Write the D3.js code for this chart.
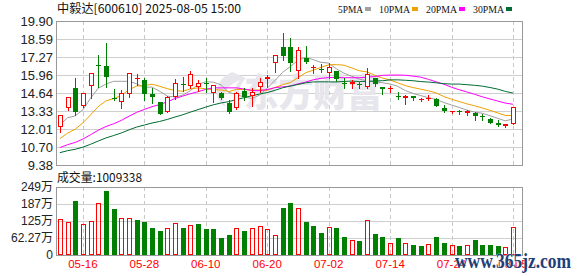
<!DOCTYPE html>
<html>
<head>
<meta charset="utf-8">
<script src="https://cdn.jsdelivr.net/npm/d3@7/dist/d3.min.js"></script>
<style>
  body { margin: 0; background: #fff; }
  svg { display: block; }
</style>
</head>
<body>
<svg id="chart" width="578" height="276"></svg>
<script>
// trading days shown on the chart
const dates = ['05-13','05-14','05-15','05-16','05-19','05-20','05-21','05-22','05-23','05-26',
  '05-27','05-28','05-29','05-30','06-03','06-04','06-05','06-06','06-09','06-10',
  '06-11','06-12','06-13','06-16','06-17','06-18','06-19','06-20','06-23','06-24',
  '06-25','06-26','06-27','06-30','07-01','07-02','07-03','07-04','07-07','07-08',
  '07-09','07-10','07-11','07-14','07-15','07-16','07-17','07-18','07-21','07-22',
  '07-23','07-24','07-25','07-28','07-29','07-30','07-31','08-01','08-04','08-05'];

const opens = [12.18,13.57,15.03,13.67,15.15,16.72,16.61,14.28,14.01,14.54,
  15.70,15.59,14.57,13.96,13.23,14.37,15.28,15.15,15.08,15.34,
  14.62,14.66,13.93,13.52,14.79,14.42,15.05,15.64,16.86,17.98,
  17.98,16.25,17.22,16.49,16.39,16.08,16.25,15.40,15.27,15.30,
  15.10,15.76,15.08,14.94,14.40,14.25,14.42,14.15,14.18,14.18,
  13.57,13.33,13.30,13.15,13.15,12.93,12.72,12.47,12.25,12.35];
const highs = [13.03,14.33,15.76,14.64,16.12,17.42,18.30,14.93,14.86,16.08,
  16.03,15.71,15.03,13.98,14.40,15.64,15.78,16.25,15.59,15.76,
  15.25,14.74,14.13,14.69,14.98,15.03,15.71,15.96,17.39,19.02,
  18.66,17.98,18.07,16.69,16.74,16.86,16.25,15.71,15.59,15.47,
  16.44,15.76,15.10,15.18,14.69,14.49,14.42,14.30,14.49,14.25,
  13.76,13.35,13.40,13.42,13.23,13.13,12.84,12.67,12.37,13.61];
const lows = [11.77,13.40,13.03,13.65,14.30,15.10,15.10,14.13,13.57,14.37,
  15.22,14.13,13.89,13.08,13.23,14.18,14.79,14.98,14.79,14.69,
  13.96,14.20,13.15,13.47,14.13,13.71,14.69,15.05,16.15,17.02,
  16.26,15.71,16.86,16.08,16.15,15.71,15.54,15.03,15.03,15.03,
  15.03,15.18,14.57,14.69,14.18,13.81,14.13,14.08,14.13,13.71,
  13.23,13.15,13.13,13.03,12.67,12.67,12.47,12.23,12.18,12.35];
const closes = [13.03,14.33,13.23,14.62,16.08,16.69,15.83,14.25,14.62,16.08,
  15.76,14.54,14.37,13.08,14.32,15.40,15.26,16.00,15.36,15.30,
  15.23,14.25,13.28,14.62,14.32,14.74,15.47,15.81,17.39,17.34,
  16.81,17.78,16.93,16.52,16.35,16.56,15.66,15.35,15.42,15.25,
  16.00,15.30,14.96,15.00,14.37,14.45,14.25,14.18,14.25,13.71,
  13.33,13.35,13.28,13.30,12.96,12.91,12.47,12.33,12.37,13.61];
// volume in 万
const volumes = [132,121,199,113.5,124.5,190,235.6,170,135.5,135.5,
  128,121,100,88,99,117,99,108.6,113.5,95,
  95,62,73,97.6,88,97.6,106,94,72,172,
  190,172,121,106,80.6,102.5,99,66,54,51,
  128,77,66,43,62,45.5,37,33,39,66,
  44,35,33,35,55,37,37,33,28,100.9338];

// closes before the visible window (oldest first), estimated from where the MA lines start
const priorCloses = [10.0,10.1,10.0,9.8,9.5,9.2,8.9,9.0,9.3,9.6,
  10.1,9.9,9.7,9.8,10.1,10.4,10.2,9.8,9.9,10.1,
  10.30,10.31,10.05,10.20,10.64,11.70,12.55,12.40,11.85];

const priceTicks = [9.38, 10.70, 12.01, 13.33, 14.64, 15.96, 17.27, 18.59, 19.90];
const volMax = 249.08;
const volTickLabels = ['0', '62.27万', '125万', '187万', '249万'];
const tickDates = ['05-16','05-28','06-10','06-20','07-02','07-14','07-24','08-05'];
const maPeriods = [5, 10, 20, 30];
const maLabels = ['5PMA', '10PMA', '20PMA', '30PMA'];
const maColors = ['#a0a0a0', '#f0a000', '#ff00ff', '#006b33'];

const title = '中毅达[600610] 2025-08-05 15:00';
const volTitle = '成交量:' + Math.round(volumes[volumes.length - 1] * 10000);

const RED = '#ff0000';
const GREEN = '#008000';
const FONT = '"Liberation Sans", Arial, sans-serif';
const MIXED = '"Liberation Sans", "Noto Sans CJK SC", sans-serif';
const CJK = '"Noto Sans CJK SC", sans-serif';

const plot = { left: 56, right: 522, top: 21, bottom: 165 };
const vol = { top: 187, bottom: 255 };
const slot = 7.68;

const svg = d3.select('#chart');

const x = d3.scaleBand().domain(dates).range([plot.left, plot.left + dates.length * slot]);
const cx = d => Math.round(x(d) + x.bandwidth() / 2);
const y = d3.scaleLinear().domain([priceTicks[0], priceTicks[priceTicks.length - 1]])
  .range([plot.bottom, plot.top]);
const yv = d3.scaleLinear().domain([0, volMax]).range([vol.bottom, vol.top]);
const volTicks = volTickLabels.map((d, i) => volMax * i / 4);

const rows = dates.map((d, i) => ({
  date: d, open: opens[i], high: highs[i], low: lows[i], close: closes[i], vol: volumes[i],
  prevClose: i === 0 ? priorCloses[priorCloses.length - 1] : closes[i - 1],
}));

// ---- grid
const grid = svg.append('g');
grid.selectAll('.hgrid').data(priceTicks).join('line')
  .attr('x1', plot.left).attr('x2', plot.right)
  .attr('y1', d => Math.round(y(d)) + 0.5).attr('y2', d => Math.round(y(d)) + 0.5)
  .attr('stroke', '#cfcfcf');
grid.selectAll('.vgrid').data(volTicks).join('line')
  .attr('x1', plot.left).attr('x2', plot.right)
  .attr('y1', d => Math.round(yv(d)) + 0.5).attr('y2', d => Math.round(yv(d)) + 0.5)
  .attr('stroke', '#cfcfcf');
[[plot.top, plot.bottom], [vol.top, vol.bottom]].forEach(([t, b]) => {
  grid.append('g').selectAll('line').data(tickDates).join('line')
    .attr('x1', d => cx(d) + 0.5).attr('x2', d => cx(d) + 0.5)
    .attr('y1', t).attr('y2', b)
    .attr('stroke', '#c8c8c8')
    .attr('stroke-dasharray', '4,3');
});

// ---- faint logo watermark
const wm = svg.append('g').attr('fill', '#e6e6ec');
wm.append('path')
  .attr('d', 'M232,72 C214,80 212,100 226,107 C220,96 226,86 240,80 C232,90 232,100 240,106 C236,94 240,84 246,78 Z');
wm.append('text')
  .attr('x', 244).attr('y', 106)
  .attr('font-family', CJK).attr('font-weight', 900).attr('font-size', 38)
  .attr('textLength', 138).attr('lengthAdjust', 'spacingAndGlyphs')
  .text('东方财富');

// ---- frames
svg.append('rect').attr('x', plot.left + 0.5).attr('y', plot.top + 0.5)
  .attr('width', plot.right - plot.left).attr('height', plot.bottom - plot.top)
  .attr('fill', 'none').attr('stroke', '#999');
svg.append('rect').attr('x', plot.left + 0.5).attr('y', vol.top + 0.5)
  .attr('width', plot.right - plot.left).attr('height', vol.bottom - vol.top)
  .attr('fill', 'none').attr('stroke', '#999');

// ---- moving averages
const allCloses = priorCloses.concat(closes);
const offset = priorCloses.length;
const line = d3.line().x(d => x(d.date) + x.bandwidth() / 2).y(d => y(d.v));
maPeriods.forEach((n, k) => {
  const pts = rows.map((r, i) => ({
    date: r.date,
    v: d3.mean(allCloses.slice(offset + i - n + 1, offset + i + 1)),
  }));
  svg.append('path').datum(pts)
    .attr('d', line)
    .attr('fill', 'none')
    .attr('stroke', maColors[k])
    .attr('stroke-width', 1);
});

// ---- candles
svg.append('g').selectAll('g').data(rows).join('g')
  .each(function (d) {
    const g = d3.select(this);
    const up = d.close >= d.open;
    const c = up ? RED : GREEN;
    const xc = cx(d.date);
    const yTop = Math.round(y(Math.max(d.open, d.close)));
    const yBot = Math.round(y(Math.min(d.open, d.close)));
    g.append('line')
      .attr('x1', xc + 0.5).attr('x2', xc + 0.5)
      .attr('y1', Math.round(y(d.high))).attr('y2', Math.round(y(d.low)) + 1)
      .attr('stroke', c);
    if (yBot - yTop < 2) {
      g.append('rect').attr('x', xc - 2).attr('y', yTop).attr('width', 5).attr('height', 1).attr('fill', c);
    } else if (up) {
      g.append('rect').attr('x', xc - 1.5).attr('y', yTop + 0.5)
        .attr('width', 4).attr('height', yBot - yTop - 1)
        .attr('fill', '#fff').attr('stroke', c);
    } else {
      g.append('rect').attr('x', xc - 2).attr('y', yTop)
        .attr('width', 5).attr('height', yBot - yTop).attr('fill', c);
    }
  });

// ---- volume bars (colour by change against previous close)
svg.append('g').selectAll('rect').data(rows).join('rect')
  .each(function (d) {
    const up = d.close >= d.prevClose;
    const xc = cx(d.date);
    const top = Math.round(yv(d.vol));
    const r = d3.select(this);
    if (up) {
      r.attr('x', xc - 1.5).attr('y', top + 0.5).attr('width', 4).attr('height', vol.bottom - top - 1)
        .attr('fill', 'none').attr('stroke', RED);
    } else {
      r.attr('x', xc - 2).attr('y', top).attr('width', 5).attr('height', vol.bottom - top)
        .attr('fill', GREEN);
    }
  });

// ---- axes
const yAxis = svg.append('g').attr('transform', `translate(${plot.left},0)`)
  .call(d3.axisLeft(y).tickValues(priceTicks).tickFormat(d3.format('.2f')).tickSize(0).tickPadding(3));
const vAxis = svg.append('g').attr('transform', `translate(${plot.left},0)`)
  .call(d3.axisLeft(yv).tickValues(volTicks).tickFormat((d, i) => volTickLabels[i]).tickSize(0).tickPadding(3));
const xAxis = svg.append('g').attr('transform', `translate(0,${vol.bottom})`)
  .call(d3.axisBottom(x).tickValues(tickDates).tickSize(0).tickPadding(5));
[yAxis, vAxis, xAxis].forEach(a => a.select('.domain').remove());
yAxis.selectAll('text').attr('font-family', FONT).attr('font-size', 13).attr('fill', '#222');
vAxis.selectAll('text').attr('font-family', MIXED).attr('font-size', 12).attr('fill', '#222');
xAxis.selectAll('text').attr('font-family', FONT).attr('font-size', 11.5).attr('fill', RED);

// ---- titles
svg.append('text').attr('x', 57).attr('y', 13)
  .attr('font-family', CJK).attr('font-size', 12).attr('fill', '#111')
  .attr('textLength', 184).attr('lengthAdjust', 'spacingAndGlyphs')
  .text(title);
svg.append('text').attr('x', 57).attr('y', 182)
  .attr('font-family', CJK).attr('font-size', 12).attr('fill', '#111')
  .attr('textLength', 85).attr('lengthAdjust', 'spacingAndGlyphs')
  .text(volTitle);

// ---- legend
const legend = svg.append('g');
let cursor = 338;
maLabels.forEach((lab, k) => {
  const w = lab.length * 6 + 1;
  legend.append('text').attr('x', cursor).attr('y', 12.5)
    .attr('font-family', '"Liberation Serif", serif').attr('font-size', 11).attr('fill', '#111')
    .attr('textLength', w).attr('lengthAdjust', 'spacingAndGlyphs')
    .text(lab);
  legend.append('rect').attr('x', cursor + w + 2).attr('y', 7).attr('width', 6).attr('height', 4)
    .attr('fill', maColors[k]);
  cursor += w + 2 + 6 + 8;
});

// ---- site watermark
svg.append('text').attr('x', 455).attr('y', 268)
  .attr('font-family', '"Liberation Serif", serif').attr('font-weight', 'bold').attr('font-size', 21)
  .attr('fill', '#1f3f78').attr('stroke', '#fff').attr('stroke-width', 0.6).attr('paint-order', 'stroke')
  .attr('textLength', 116).attr('lengthAdjust', 'spacingAndGlyphs')
  .text('www.365jz.com');
</script>
</body>
</html>
